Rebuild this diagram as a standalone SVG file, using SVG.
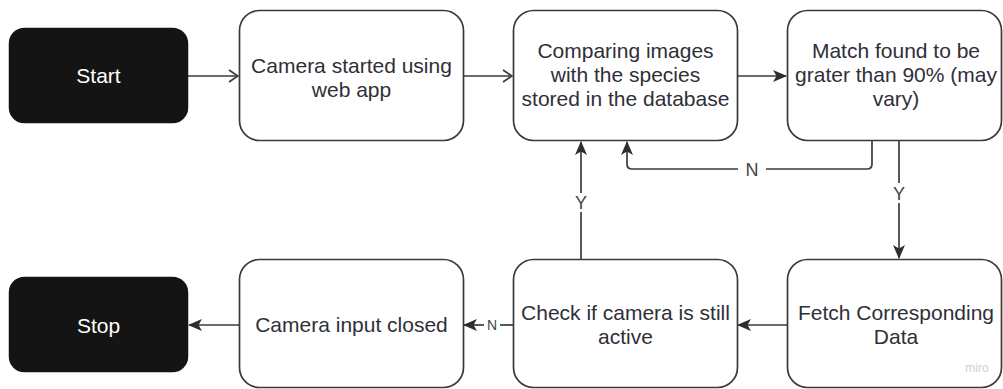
<svg xmlns="http://www.w3.org/2000/svg" width="1003" height="389" viewBox="0 0 1003 389">
  <style>
    .term rect { fill: #141414; stroke: #141414; stroke-width: 1.5; }
    .step rect { fill: #ffffff; stroke: #3a3a3a; stroke-width: 1.7; }
    text { font-family: "Liberation Sans", Arial, sans-serif; text-anchor: middle; }
    .term text { fill: #ffffff; font-size: 21px; }
    .step text { fill: #2f2f38; font-size: 21px; }
    .wire { fill: none; stroke: #3a3a3a; stroke-width: 1.7; }
    .lbl { fill: #444; font-size: 18px; }
    .lbl-s { fill: #444; font-size: 14px; }
    .mark { fill: #d0d0d0; font-size: 12px; }
  </style>
  <defs>
    <marker id="solid" viewBox="0 0 14 12" refX="13" refY="6" markerWidth="14" markerHeight="12" markerUnits="userSpaceOnUse" orient="auto">
      <path d="M0,0 L14,6 L0,12 L3.5,6 Z" fill="#2e2e2e"/>
    </marker>
    <marker id="open" viewBox="0 0 12 14" refX="11" refY="7" markerWidth="12" markerHeight="14" markerUnits="userSpaceOnUse" orient="auto">
      <path d="M2,1 L11,7 L2,13" fill="none" stroke="#3a3a3a" stroke-width="1.7"/>
    </marker>
  </defs>

  <!-- connectors -->
  <g id="connectors">
    <path class="wire" d="M188,76 H238" marker-end="url(#open)"/>
    <path class="wire" d="M463,76 H512" marker-end="url(#open)"/>
    <path class="wire" d="M737,76 H786" marker-end="url(#solid)"/>
    <!-- no match: back to comparison -->
    <path class="wire" d="M872,141 V164 Q872,169 867,169 H766"/>
    <path class="wire" d="M738,169 H632 Q627,169 627,164 V142" marker-end="url(#solid)"/>
    <text class="lbl" x="752" y="176">N</text>
    <!-- match: fetch data -->
    <path class="wire" d="M899,141 V183"/>
    <path class="wire" d="M899,203 V258" marker-end="url(#solid)"/>
    <text class="lbl" x="899" y="200">Y</text>
    <!-- fetch to check -->
    <path class="wire" d="M787,325 H738" marker-end="url(#solid)"/>
    <!-- camera still active: loop back -->
    <path class="wire" d="M581,259 V212"/>
    <path class="wire" d="M581,193 V142" marker-end="url(#solid)"/>
    <text class="lbl" x="581" y="209">Y</text>
    <!-- camera inactive: close -->
    <path class="wire" d="M513,325 H500"/>
    <path class="wire" d="M484,325 H464" marker-end="url(#solid)"/>
    <text class="lbl-s" x="492" y="330">N</text>
    <path class="wire" d="M239,325 H189" marker-end="url(#solid)"/>
  </g>

  <g id="start" class="term">
    <rect x="9.5" y="28.5" width="178" height="94" rx="15"/>
    <text x="98.5" y="83">Start</text>
  </g>
  <g id="camera-started" class="step">
    <rect x="239.5" y="10.5" width="224" height="130" rx="20"/>
    <text x="351.5" y="73">Camera started using</text>
    <text x="351.5" y="97">web app</text>
  </g>
  <g id="compare" class="step">
    <rect x="513.5" y="10.5" width="224" height="130" rx="20"/>
    <text x="625.5" y="58">Comparing images</text>
    <text x="625.5" y="82">with the species</text>
    <text x="625.5" y="106">stored in the database</text>
  </g>
  <g id="match" class="step">
    <rect x="787.5" y="10.5" width="214" height="130" rx="20"/>
    <text x="896" y="58">Match found to be</text>
    <text x="896" y="82">grater than 90% (may</text>
    <text x="896" y="106">vary)</text>
  </g>
  <g id="stop" class="term">
    <rect x="9.5" y="277.5" width="178" height="94" rx="15"/>
    <text x="98.5" y="333">Stop</text>
  </g>
  <g id="camera-closed" class="step">
    <rect x="239.5" y="259.5" width="224" height="128" rx="20"/>
    <text x="351.5" y="332">Camera input closed</text>
  </g>
  <g id="check-active" class="step">
    <rect x="513.5" y="259.5" width="224" height="128" rx="20"/>
    <text x="625.5" y="320">Check if camera is still</text>
    <text x="625.5" y="344">active</text>
  </g>
  <g id="fetch" class="step">
    <rect x="787.5" y="259.5" width="214" height="128" rx="20"/>
    <text x="896" y="320">Fetch Corresponding</text>
    <text x="896" y="344">Data</text>
  </g>
  <text class="mark" x="977" y="372">miro</text>
</svg>
